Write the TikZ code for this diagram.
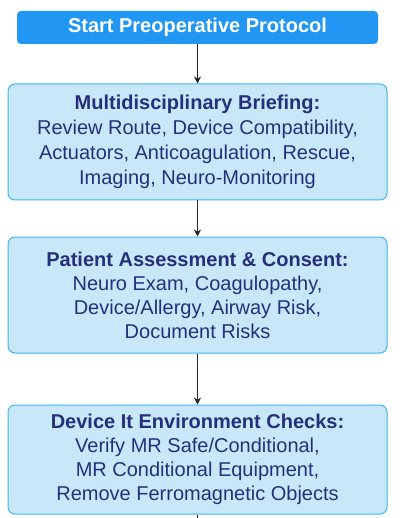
\documentclass[tikz,border=0pt]{standalone}
\usepackage{fontspec}
\setmainfont{Liberation Sans}
\usetikzlibrary{arrows.meta, positioning}

\definecolor{startblue}{HTML}{2196F3}
\definecolor{boxfill}{HTML}{C8E8F9}
\definecolor{boxline}{HTML}{3DB5EE}
\definecolor{navy}{HTML}{252F7A}

\begin{document}
\begin{tikzpicture}[
    x=1pt, y=1pt,
    start/.style={rectangle, fill=startblue, text=white, font=\fontsize{20}{24}\selectfont\bfseries, minimum width=361pt, minimum height=33pt, rounded corners=4pt, inner sep=0pt},
    block/.style={rectangle, draw=boxline, line width=1pt, fill=boxfill, text=navy, font=\fontsize{20}{24}\selectfont, align=center, minimum width=379pt, rounded corners=7pt, inner sep=0pt},
    arrow/.style={line width=0.9pt, draw=black!85, -{Stealth[length=7pt, width=7pt]}}
]
\useasboundingbox (0,0) rectangle (414,-518);

\node (start) [start] at (197.5,-27.5) {Start Preoperative Protocol};

\node (briefing) [block, minimum height=116pt, font=\fontsize{20}{25}\selectfont] at (197.5,-142) {\textbf{Multidisciplinary Briefing:}\\Review Route, Device Compatibility,\\Actuators, Anticoagulation, Rescue,\\Imaging, Neuro-Monitoring};
\node (consent) [block, minimum height=116pt] at (197.5,-295) {\textbf{Patient Assessment \& Consent:}\\Neuro Exam, Coagulopathy,\\Device/Allergy, Airway Risk,\\Document Risks};
\node (checks) [block, minimum height=109pt] at (197.5,-459.5) {\textbf{Device It Environment Checks:}\\Verify MR Safe/Conditional,\\MR Conditional Equipment,\\Remove Ferromagnetic Objects};

\coordinate (tail) at (197.5,-525);

\draw [arrow] (start.south) -- (briefing.north);
\draw [arrow] (briefing.south) -- (consent.north);
\draw [arrow] (consent.south) -- (checks.north);
\draw [line width=0.9pt, draw=black!85] (checks.south) -- (tail);

\end{tikzpicture}
\end{document}
